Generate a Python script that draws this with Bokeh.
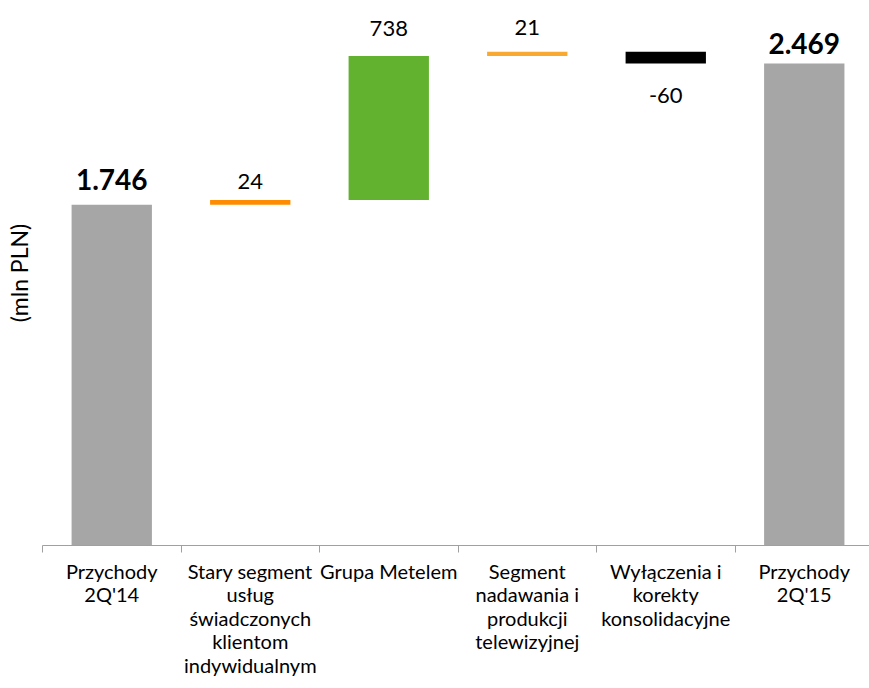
from bokeh.plotting import figure
from bokeh.models import ColumnDataSource, FixedTicker, Range1d
from bokeh.core.properties import value
from bokeh.embed import file_html
from bokeh.resources import INLINE

categories = ["Przychody\n2Q'14",
              "Stary segment\nusług\nświadczonych\nklientom\nindywidualnym",
              "Grupa Metelem",
              "Segment\nnadawania i\nprodukcji\ntelewizyjnej",
              "Wyłączenia i\nkorekty\nkonsolidacyjne",
              "Przychody\n2Q'15"]
start_value = 1746
deltas = [24, 738, 21, -60]
end_value = 2469
value_labels = ["1.746", "24", "738", "21", "-60", "2.469"]

colors = ["#A6A6A6", "#FF8C00", "#63B22F", "#F9A832", "#000000", "#A6A6A6"]

# waterfall bottoms / tops
bottoms, tops = [0], [start_value]
run = start_value
for d in deltas:
    lo, hi = (run, run + d) if d >= 0 else (run + d, run)
    bottoms.append(lo)
    tops.append(hi)
    run += d
bottoms.append(0)
tops.append(end_value)

n = len(categories)
xs = [i + 0.5 for i in range(n)]

p = figure(width=869, height=688, output_backend="svg", toolbar_location=None,
           x_range=Range1d(0, 5.971), y_range=Range1d(0, 2792),
           min_border_left=42, min_border_right=0, min_border_top=0,
           min_border_bottom=143)
p.outline_line_color = None
p.xgrid.visible = False
p.ygrid.visible = False
p.background_fill_color = "white"
p.border_fill_color = "white"

src = ColumnDataSource(dict(x=xs, bottom=bottoms, top=tops, color=colors))
p.vbar(x="x", width=0.58, bottom="bottom", top="top", fill_color="color",
       line_color=None, source=src)

# value labels
is_total = [True, False, False, False, False, True]
lab_y, lab_base, lab_off = [], [], []
offsets_pos = [-15, -11, -20, -17, 0, -10]
for i in range(n):
    d = deltas[i - 1] if 0 < i < n - 1 else 1
    if d >= 0:
        lab_y.append(tops[i]); lab_base.append("bottom"); lab_off.append(offsets_pos[i])
    else:
        lab_y.append(bottoms[i]); lab_base.append("top"); lab_off.append(24)

reg = [i for i in range(n) if not is_total[i]]
tot = [i for i in range(n) if is_total[i]]
for idx, style, size in [(reg, "normal", "22px"), (tot, "bold", "28px")]:
    s = ColumnDataSource(dict(x=[xs[i] for i in idx], y=[lab_y[i] for i in idx],
                              t=[value_labels[i] for i in idx],
                              b=[lab_base[i] for i in idx],
                              o=[lab_off[i] for i in idx]))
    p.text(x="x", y="y", text="t", source=s, text_align="center",
           text_baseline="b", y_offset="o", text_font=value("Lato"),
           text_font_style=style, text_font_size=size, text_color="#000000")

# x axis: category labels at centres, tick marks at boundaries
xa = p.xaxis[0]
xa.ticker = FixedTicker(ticks=xs, minor_ticks=list(range(n + 1)))
xa.major_label_overrides = {x: c for x, c in zip(xs, categories)}
xa.major_tick_out = 0
xa.major_tick_in = 0
xa.minor_tick_out = 7
xa.minor_tick_in = 0
xa.minor_tick_line_color = "#A0A0A0"
xa.axis_line_color = "#A0A0A0"
xa.axis_line_width = 1
xa.major_label_text_font = "Lato"
xa.major_label_text_font_size = "20px"
xa.major_label_text_line_height = 0.98
xa.major_label_text_color = "#000000"
xa.major_label_standoff = 6

# y axis: only the title
ya = p.yaxis[0]
ya.ticker = FixedTicker(ticks=[])
ya.axis_line_color = None
ya.major_tick_line_color = None
ya.minor_tick_line_color = None
ya.axis_label = "(mln PLN)"
ya.axis_label_text_font = "Lato"
ya.axis_label_text_font_style = "normal"
ya.axis_label_text_font_size = "23px"
ya.axis_label_text_color = "#000000"
ya.axis_label_standoff = 10

open("out.html", "w").write(file_html(p, INLINE))
